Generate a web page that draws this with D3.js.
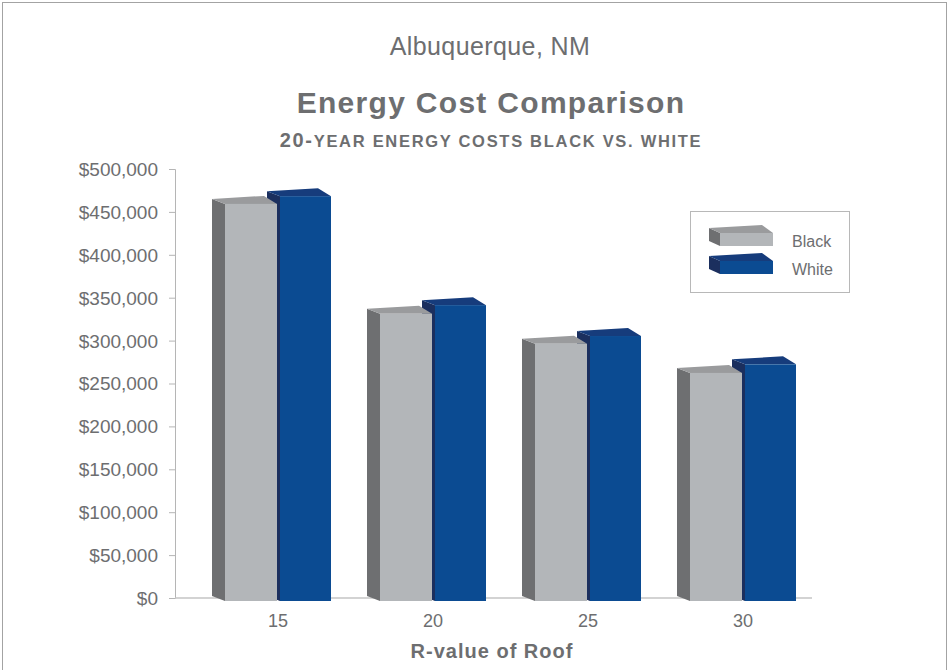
<!DOCTYPE html>
<html>
<head>
<meta charset="utf-8">
<script src="https://cdn.jsdelivr.net/npm/d3@7"></script>
<style>
  body { margin: 0; background: #fff; }
  text { font-family: "Liberation Sans", Arial, sans-serif; fill: #6d6e70; }
</style>
</head>
<body>
<div id="chart"></div>
<script>
// chart data
const categories = ["15", "20", "25", "30"];
const blackCosts = [464000, 336000, 301000, 267000];
const whiteCosts = [473000, 346000, 310000, 277000];
const yTicks = [0, 50000, 100000, 150000, 200000, 250000, 300000, 350000, 400000, 450000, 500000];
const seriesNames = ["Black", "White"];

var width = 951, height = 670;

var svg = d3.select("#chart").append("svg")
    .attr("width", width)
    .attr("height", height);

svg.append("rect")
    .attr("x", 2.5).attr("y", 2.5)
    .attr("width", 944).attr("height", 720)
    .attr("fill", "none")
    .attr("stroke", "#a3a3a3");

// titles
svg.append("text").attr("x", 490).attr("y", 55)
    .attr("text-anchor", "middle").style("font-size", "25px").style("letter-spacing", "0.4px")
    .text("Albuquerque, NM");
svg.append("text").attr("x", 491).attr("y", 113)
    .attr("text-anchor", "middle").style("font-size", "30px").style("font-weight", "bold")
    .style("letter-spacing", "1.3px")
    .text("Energy Cost Comparison");
var sub = svg.append("text").attr("x", 491).attr("y", 147)
    .attr("text-anchor", "middle").style("font-weight", "bold").style("letter-spacing", "1.7px");
sub.append("tspan").style("font-size", "20px").text("20-");
sub.append("tspan").style("font-size", "16.5px").text("YEAR ENERGY COSTS BLACK VS. WHITE");

var y = d3.scaleLinear().domain([0, 500000]).range([598, 169]);
var x = d3.scalePoint().domain(categories).range([278, 743]);

// y axis
var yAxis = svg.append("g")
    .attr("transform", "translate(175,0)")
    .call(d3.axisLeft(y).tickValues(yTicks).tickSize(6).tickPadding(11)
        .tickFormat(d => "$" + d3.format(",")(d)));
yAxis.select(".domain").attr("stroke", "#b5b5b5");
yAxis.selectAll(".tick line").attr("stroke", "#b5b5b5");
yAxis.selectAll(".tick text").style("font-size", "19px").attr("fill", "#727375").attr("dy", "0.34em");

// x axis line
svg.append("line")
    .attr("x1", 175).attr("x2", 812)
    .attr("y1", 598).attr("y2", 598)
    .attr("stroke", "#c4c4c4").attr("stroke-width", 1.5);

svg.selectAll(".xlab")
    .data(categories)
    .enter()
    .append("text")
    .attr("class", "xlab")
    .attr("x", d => x(d))
    .attr("y", 627)
    .attr("text-anchor", "middle")
    .style("font-size", "18px")
    .attr("fill", "#727375")
    .text(d => d);

svg.append("text").attr("x", 492).attr("y", 658)
    .attr("text-anchor", "middle").style("font-size", "20px").style("font-weight", "bold")
    .style("letter-spacing", "1px")
    .text("R-value of Roof");

// 3d box faces
var styles = {
    Black: {front: "#b3b6b9", side: "#6e6f71", top: "#9a9b9d"},
    White: {front: "#0b4b92", side: "#1b2f5e", top: "#163c7c"}
};

function box(g, x0, x1, top, bottom, s, d) {
    g.append("polygon")
        .attr("points", [[x0, top], [x0 - d, top - 5], [x0 - d, bottom - 5], [x0, bottom]].join(" "))
        .attr("fill", s.side);
    g.append("polygon")
        .attr("points", [[x0, top], [x0 - d, top - 5], [x1 - d, top - 8], [x1, top]].join(" "))
        .attr("fill", s.top);
    g.append("rect")
        .attr("x", x0).attr("y", top)
        .attr("width", x1 - x0).attr("height", bottom - top)
        .attr("fill", s.front);
}

var bars = svg.append("g");
categories.forEach((c, i) => {
    var cx = x(c);
    // white first so the black bar sits over its side face
    box(bars, cx + 2, cx + 53, y(whiteCosts[i]) + 4, 601, styles.White, 13);
    box(bars, cx - 53, cx - 1, y(blackCosts[i]) + 4, 601, styles.Black, 13);
});

// legend
var legend = svg.append("g");
legend.append("rect")
    .attr("x", 690.5).attr("y", 211.5)
    .attr("width", 159).attr("height", 81)
    .attr("fill", "#fff").attr("stroke", "#b8b8b8");
seriesNames.forEach((n, i) => {
    var ty = 233 + i * 28;
    box(legend, 720, 773, ty, ty + 13, styles[n], 11);
    legend.append("text")
        .attr("x", 792).attr("y", ty + 14)
        .style("font-size", "16px")
        .text(n);
});
</script>
</body>
</html>
